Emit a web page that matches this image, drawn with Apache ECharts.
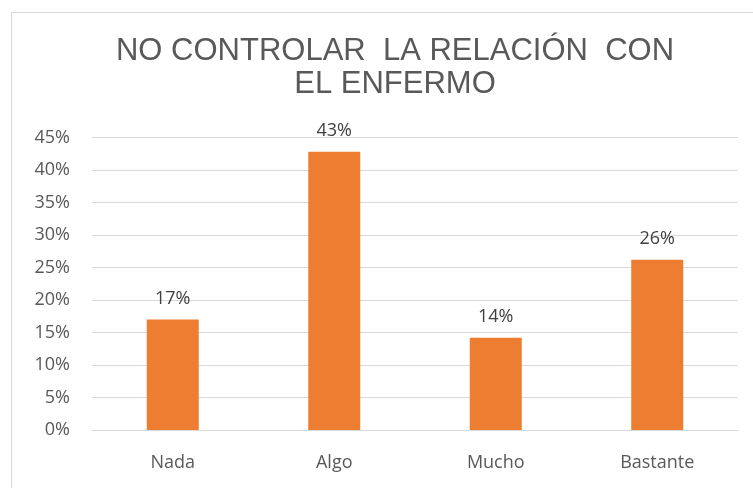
<!DOCTYPE html>
<html><head><meta charset="utf-8">
<script src="https://cdn.jsdelivr.net/npm/echarts@6/dist/echarts.min.js"></script>
<style>html,body{margin:0;padding:0;background:#fff}#c{width:753px;height:488px}</style>
</head><body><div id="c"></div>
<script>
const categories = ["Nada", "Algo", "Mucho", "Bastante"];
const values = [17.0, 42.8, 14.2, 26.2];
const labels = ["17%", "43%", "14%", "26%"];
const titleText = "NO CONTROLAR  LA RELACIÓN  CON\nEL ENFERMO";

const chart = echarts.init(document.getElementById('c'));
chart.setOption({
  animation: false,
  graphic: [{type:'rect', shape:{x:11.5, y:12.5, width:800, height:600}, style:{fill:'none', stroke:'#d9d9d9', lineWidth:1}}],
  title: {text: titleText, left: 390, top: 30, textAlign: 'center',
    textStyle: {fontFamily: '"Liberation Sans Narrow", "Liberation Sans", sans-serif', fontSize: 31, fontWeight: 'normal', color: '#595959', lineHeight: 33}},
  grid: {left: 92, right: 15, top: 137.5, bottom: 58, containLabel: false},
  xAxis: {type: 'category', data: categories,
    axisLine: {lineStyle: {color: '#d9d9d9'}}, axisTick: {show: false},
    axisLabel: {color: '#595959', fontSize: 18, fontFamily: '"Open Sans", sans-serif', margin: 24}},
  yAxis: {type: 'value', min: 0, max: 45, interval: 5,
    axisLine: {show: false}, axisTick: {show: false},
    splitLine: {lineStyle: {color: '#d9d9d9', width: 1}},
    axisLabel: {formatter: v => v + '%', color: '#595959', fontSize: 18, fontFamily: '"Open Sans", sans-serif', margin: 22}},
  series: [{type: 'bar', data: values, barWidth: 52, itemStyle: {color: '#ed7d31'},
    label: {show: true, position: 'top', distance: 12, color: '#404040', fontSize: 18, fontFamily: '"Open Sans", sans-serif',
      formatter: p => labels[p.dataIndex]}}]
});
</script></body></html>
